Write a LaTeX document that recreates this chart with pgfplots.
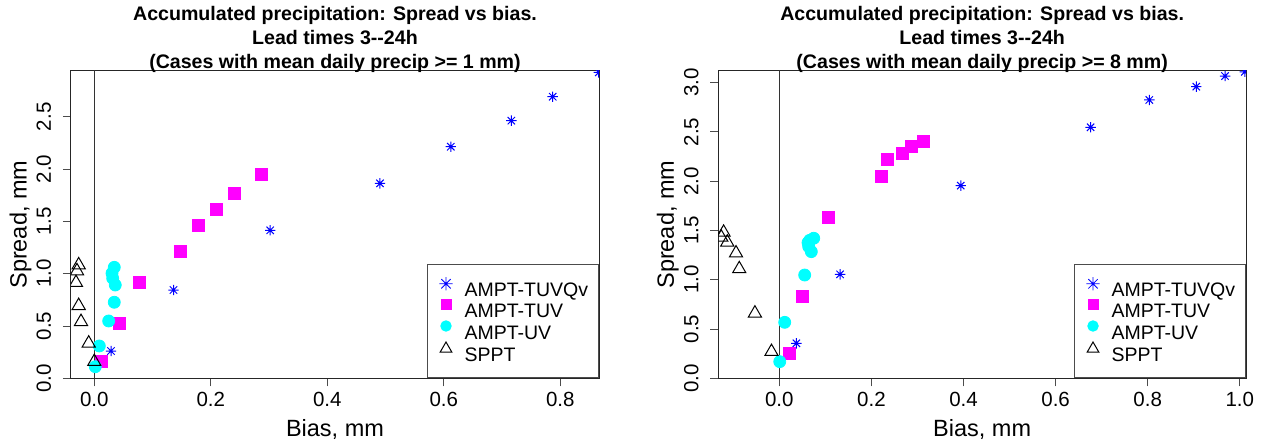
\documentclass[border=0pt]{standalone}
\usepackage{fontspec}
\setmainfont{Liberation Sans}
\usepackage{pgfplots}
\pgfplotsset{compat=1.18}
\definecolor{rblue}{RGB}{0,0,255}
\definecolor{rmag}{RGB}{255,0,255}
\definecolor{rcyan}{RGB}{0,255,255}

\pgfdeclareplotmark{rstar}{%
  \pgfpathmoveto{\pgfqpoint{-\pgfplotmarksize}{0pt}}\pgfpathlineto{\pgfqpoint{\pgfplotmarksize}{0pt}}%
  \pgfpathmoveto{\pgfqpoint{0pt}{-\pgfplotmarksize}}\pgfpathlineto{\pgfqpoint{0pt}{\pgfplotmarksize}}%
  \pgfpathmoveto{\pgfqpoint{-0.7071\pgfplotmarksize}{-0.7071\pgfplotmarksize}}\pgfpathlineto{\pgfqpoint{0.7071\pgfplotmarksize}{0.7071\pgfplotmarksize}}%
  \pgfpathmoveto{\pgfqpoint{-0.7071\pgfplotmarksize}{0.7071\pgfplotmarksize}}\pgfpathlineto{\pgfqpoint{0.7071\pgfplotmarksize}{-0.7071\pgfplotmarksize}}%
  \pgfusepathqstroke}

\pgfplotstableread{
x y
0.0287 0.261
0.136 0.844
0.302 1.415
0.4905 1.864
0.612 2.214
0.716 2.463
0.787 2.692
0.866 2.925
}\LstarT
\pgfplotstableread{
x y
0.0115 0.165
0.0429 0.526
0.078 0.918
0.148 1.21
0.179 1.466
0.209 1.616
0.240 1.768
0.287 1.953
}\LsqT
\pgfplotstableread{
x y
0.0017 0.111
0.0086 0.309
0.0247 0.548
0.0343 0.727
0.036 0.892
0.0316 0.956
0.0304 1.004
0.0343 1.061
}\LcircT
\pgfplotstableread{
x y
-0.0268 1.083
-0.0297 1.026
-0.0314 0.914
-0.0268 0.694
-0.0228 0.541
-0.0096 0.335
0.0 0.159
}\LtriT

\pgfplotstableread{
x y
0.037 0.355
0.132 1.055
0.394 1.955
0.676 2.547
0.8035 2.824
0.9055 2.959
0.968 3.067
1.011 3.11
}\RstarT
\pgfplotstableread{
x y
0.0226 0.254
0.0508 0.828
0.1057 1.637
0.222 2.046
0.234 2.222
0.2665 2.283
0.2875 2.35
0.3127 2.401
}\RsqT
\pgfplotstableread{
x y
0.0009 0.169
0.0117 0.568
0.0551 1.048
0.0695 1.285
0.0638 1.336
0.0623 1.376
0.066 1.400
0.0747 1.421
}\RcircT
\pgfplotstableread{
x y
-0.121 1.48
-0.126 1.43
-0.113 1.38
-0.094 1.27
-0.087 1.11
-0.053 0.66
-0.017 0.27
}\RtriT

\pgfplotsset{
  rstyle/.style={
    scale only axis,
    height=153.65pt,
    ymin=0,
    axis line style={black!85, line width=0.5pt},
    tick style={black!70, line width=0.5pt},
    tick align=outside,
    major tick length=4pt,
    xtick pos=bottom, ytick pos=left,
    /pgf/number format/assume math mode=true,
    /pgf/number format/fixed,
    /pgf/number format/fixed zerofill,
    /pgf/number format/precision=1,
    tick label style={font=\fontsize{10.25}{12}\selectfont},
    xticklabel style={anchor=north, inner sep=0pt, yshift=-2.5pt},
    yticklabel style={xshift=-6pt, rotate=90, anchor=base, inner sep=0pt},
    label style={font=\fontsize{11.75}{14}\selectfont},
    xlabel style={at={(axis description cs:0.5,0)}, anchor=base, inner sep=0pt, yshift=-29.2pt},
    ylabel style={at={(axis description cs:-0.084,0.5)}, anchor=base, inner sep=0pt},
    every axis title shift=0pt,
    title style={at={(axis description cs:0.5,1)}, anchor=south, align=center, inner sep=0pt, yshift=-0.8pt,
      font=\fontsize{9.8}{12}\selectfont\bfseries},
    clip marker paths=true,
    legend style={at={(1,0)}, anchor=south east, draw=black!70, line width=0.5pt,
      inner xsep=0pt, inner ysep=6.5pt, row sep=0pt,
      nodes={inner sep=0pt}, font=\fontsize{9.75}{11.5}\selectfont},
    legend cell align=left,
    legend image code/.code={%
      \path (0pt,0pt) (18pt,0pt);
      \draw[mark repeat=2,mark phase=2] plot coordinates {(0pt,3.5pt) (9pt,3.5pt) (18pt,3.5pt)};},
    starst/.style={only marks, mark=rstar, mark size=2.6pt, rblue, line width=0.5pt,
      legend image post style={mark size=3.3pt, line width=0.4pt}},
    sqst/.style={only marks, mark=square*, mark size=3pt, rmag, mark options={fill=rmag, draw=rmag},
      legend image post style={mark size=2.5pt}},
    cirst/.style={only marks, mark=*, mark size=3pt, rcyan, mark options={fill=rcyan, draw=rcyan},
      legend image post style={mark size=2.6pt}},
    trist/.style={only marks, mark=triangle, mark size=3.8pt, black, line width=0.5pt,
      legend image post style={mark size=3.4pt}},
  }
}
\newcommand{\lent}[1]{\makebox[67pt][l]{\rule[-2pt]{0pt}{9.5pt}#1}}

\begin{document}
\begin{tikzpicture}
\useasboundingbox (0,0) rectangle (631.5pt,222.5pt);
\begin{axis}[rstyle,
  at={(35.5pt,33.35pt)}, anchor=south west,
  width=264pt,
  xmin=-0.040, xmax=0.8665, ymax=2.938,
  xtick={0,0.2,0.4,0.6,0.8},
  ytick={0,0.5,1,1.5,2,2.5},
  xlabel={Bias, mm}, ylabel={Spread, mm},
  title={Accumulated precipitation: Spread vs bias.\\Lead times 3-{}-24h\\(Cases with mean daily precip >= 1 mm)},
]
\addplot[black!80, line width=0.5pt, forget plot] coordinates {(0,0) (0,3.2)};
\addplot[starst] table {\LstarT};
\addplot[sqst] table {\LsqT};
\addplot[cirst] table {\LcircT};
\addplot[trist] table {\LtriT};
\legend{\lent{AMPT-TUVQv},\lent{AMPT-TUV},\lent{AMPT-UV},\lent{SPPT}}
\end{axis}
\begin{axis}[rstyle,
  at={(359.15pt,33.35pt)}, anchor=south west,
  width=263.85pt,
  xmin=-0.1325, xmax=1.0135, ymax=3.118,
  xtick={0,0.2,0.4,0.6,0.8,1.0},
  ytick={0,0.5,1,1.5,2,2.5,3},
  xlabel={Bias, mm}, ylabel={Spread, mm},
  title={Accumulated precipitation: Spread vs bias.\\Lead times 3-{}-24h\\(Cases with mean daily precip >= 8 mm)},
]
\addplot[black!80, line width=0.5pt, forget plot] coordinates {(0,0) (0,3.3)};
\addplot[starst] table {\RstarT};
\addplot[sqst] table {\RsqT};
\addplot[cirst] table {\RcircT};
\addplot[trist] table {\RtriT};
\legend{\lent{AMPT-TUVQv},\lent{AMPT-TUV},\lent{AMPT-UV},\lent{SPPT}}
\end{axis}
\end{tikzpicture}
\end{document}
